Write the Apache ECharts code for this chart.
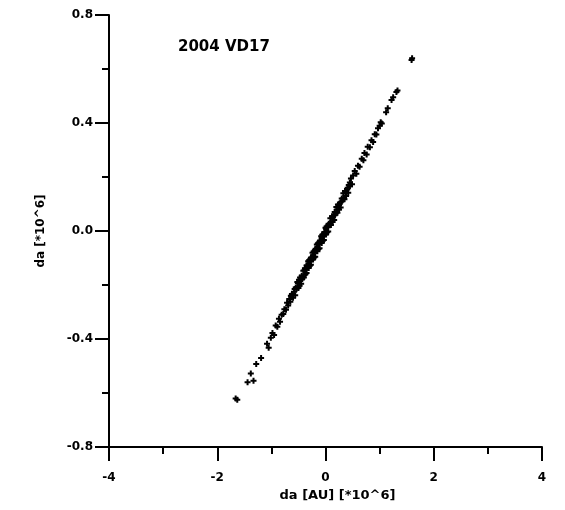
<!DOCTYPE html>
<html>
<head>
<meta charset="utf-8">
<script src="https://cdn.jsdelivr.net/npm/echarts@6/dist/echarts.min.js"></script>
<style>
  html, body { margin: 0; padding: 0; background: #fff; }
  #chart { width: 565px; height: 510px; }
</style>
</head>
<body>
<div id="chart"></div>
<script>
// da [AU] (*10^6) and the matching y values (*10^6)
const daX = [
  // lower tail
  -1.66, -1.63, -1.44, -1.33, -1.38, -1.28, -1.19, -1.08, -1.05, -1.01,
  -0.98, -0.95, -0.92, -0.89, -0.86, -0.84, -0.81, -0.78, -0.76, -0.73,
  -0.71, -0.69, -0.67, -0.65, -0.64,
  // dense middle
  -0.62, -0.60, -0.58, -0.56, -0.55, -0.53, -0.52, -0.50, -0.49, -0.48,
  -0.46, -0.45, -0.44, -0.42, -0.41, -0.40, -0.38, -0.37, -0.36, -0.35,
  -0.34, -0.33, -0.32, -0.31, -0.30, -0.29, -0.28, -0.27, -0.26, -0.25,
  -0.24, -0.23, -0.22, -0.21, -0.20, -0.19, -0.18, -0.17, -0.16, -0.15,
  -0.14, -0.13, -0.12, -0.11, -0.10, -0.09, -0.08, -0.07, -0.06, -0.05,
  -0.04, -0.03, -0.02, -0.01, 0.00, 0.01, 0.02, 0.03, 0.04, 0.05,
  0.06, 0.08, 0.09, 0.10, 0.12, 0.13, 0.14, 0.16, 0.17, 0.19,
  0.20, 0.22, 0.23, 0.25, 0.26, 0.28, 0.30, 0.31, 0.33, 0.35,
  0.36, 0.38, 0.40, 0.42, 0.43, 0.45, 0.47, 0.49, 0.51,
  -0.57, -0.51, -0.47, -0.43, -0.39, -0.35, -0.31, -0.27, -0.23, -0.19,
  -0.15, -0.11, -0.07, -0.03, 0.01, 0.05, 0.09, 0.13, 0.17, 0.21,
  0.25, 0.29, 0.33, 0.37, 0.41, 0.45,
  // upper part
  0.54, 0.57, 0.60, 0.63, 0.67, 0.70, 0.72, 0.76, 0.78, 0.82,
  0.85, 0.88, 0.91, 0.94, 0.97, 1.00, 1.02, 1.04,
  1.12, 1.15, 1.22, 1.25, 1.31, 1.33,
  1.59, 1.60
];
const daY = [
  -0.620, -0.625, -0.560, -0.555, -0.528, -0.493, -0.470, -0.418, -0.432, -0.395,
  -0.378, -0.385, -0.350, -0.355, -0.325, -0.336, -0.310, -0.307, -0.290, -0.292,
  -0.266, -0.276, -0.252, -0.262, -0.240,
  -0.233, -0.247, -0.225, -0.238, -0.209, -0.213, -0.189, -0.211, -0.181, -0.203,
  -0.179, -0.195, -0.166, -0.171, -0.147, -0.172, -0.138, -0.160, -0.140, -0.156,
  -0.128, -0.136, -0.112, -0.137, -0.107, -0.129, -0.109, -0.125, -0.097, -0.105,
  -0.081, -0.106, -0.076, -0.098, -0.078, -0.095, -0.066, -0.074, -0.050, -0.075,
  -0.045, -0.067, -0.047, -0.064, -0.035, -0.043, -0.019, -0.044, -0.014, -0.036,
  -0.016, -0.033, -0.004, -0.012, 0.012, -0.013, 0.017, -0.005, 0.014, -0.002,
  0.027, 0.023, 0.047, 0.022, 0.055, 0.033, 0.053, 0.041, 0.070, 0.066,
  0.089, 0.068, 0.098, 0.080, 0.100, 0.087, 0.120, 0.112, 0.140, 0.118,
  0.148, 0.130, 0.154, 0.142, 0.170, 0.166, 0.194, 0.173, 0.206,
  -0.215, -0.193, -0.172, -0.178, -0.145, -0.128, -0.121, -0.100, -0.090, -0.070,
  -0.058, -0.040, -0.026, -0.010, 0.008, 0.020, 0.030, 0.050, 0.058, 0.080,
  0.095, 0.108, 0.122, 0.140, 0.160, 0.180,
  0.222, 0.212, 0.242, 0.238, 0.268, 0.262, 0.289, 0.283, 0.312, 0.310,
  0.336, 0.330, 0.358, 0.357, 0.381, 0.390, 0.403, 0.398,
  0.440, 0.455, 0.485, 0.495, 0.515, 0.520,
  0.633, 0.640
];
const xTicks = [-4, -2, 0, 2, 4];
const yTicks = [-0.8, -0.4, 0.0, 0.4, 0.8];

const points = daX.map((x, i) => [x, daY[i]]);

const chart = echarts.init(document.getElementById("chart"));

// small filled plus sign, like the original markers
const plus = "path://M-1,-3H1V-1H3V1H1V3H-1V1H-3V-1H-1Z";

const labelFont = { color: "#000", fontFamily: "DejaVu Sans", fontSize: 12, fontWeight: "bold" };
const axisBits = {
  axisLine: { show: true, onZero: false, lineStyle: { color: "#000", width: 2 } },
  axisTick: { show: true, inside: false, length: 14, lineStyle: { color: "#000", width: 2 } },
  minorTick: { show: true, splitNumber: 2, length: 7, lineStyle: { color: "#000", width: 2 } },
  splitLine: { show: false },
  minorSplitLine: { show: false }
};

chart.setOption({
  backgroundColor: "#fff",
  animation: false,
  title: {
    text: "2004 VD17",
    left: 173,
    top: 35,
    textStyle: { fontFamily: "DejaVu Sans", fontSize: 15, fontWeight: "bold", color: "#000" }
  },
  grid: { left: 109, right: 23, top: 15, bottom: 63 },
  xAxis: {
    type: "value",
    min: xTicks[0],
    max: xTicks[xTicks.length - 1],
    interval: 2,
    name: "da [AU] [*10^6]",
    nameLocation: "middle",
    nameGap: 36,
    nameTextStyle: { color: "#000", fontFamily: "DejaVu Sans", fontSize: 13, fontWeight: "bold", padding: [0, 0, 0, 24] },
    axisLabel: Object.assign({ margin: 25, formatter: v => String(v) }, labelFont),
    ...axisBits
  },
  yAxis: {
    type: "value",
    min: yTicks[0],
    max: yTicks[yTicks.length - 1],
    interval: 0.4,
    name: "da [*10^6]",
    nameLocation: "middle",
    nameRotate: 90,
    nameGap: 62,
    nameTextStyle: { color: "#000", fontFamily: "DejaVu Sans", fontSize: 12, fontWeight: "bold" },
    axisLabel: Object.assign({ margin: 16, formatter: v => v.toFixed(1) }, labelFont),
    ...axisBits
  },
  series: [
    {
      type: "scatter",
      data: points,
      symbol: plus,
      symbolSize: 6,
      itemStyle: { color: "#000", opacity: 1 }
    }
  ]
});
</script>
</body>
</html>
